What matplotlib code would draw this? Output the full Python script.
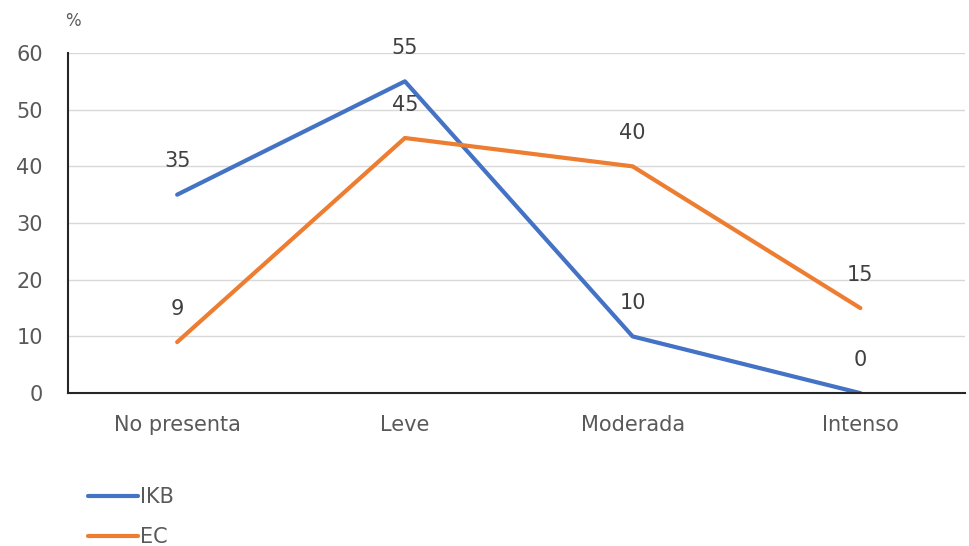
import matplotlib.pyplot as plt

categories = ["No presenta", "Leve", "Moderada", "Intenso"]
ikb = [35, 55, 10, 0]
ec = [9, 45, 40, 15]
yticks = [0, 10, 20, 30, 40, 50, 60]

text_color = "#595959"

fig = plt.figure(figsize=(9.69, 5.46), dpi=100)
ax = fig.add_axes([0.070, 0.280, 0.926, 0.623])

x = list(range(len(categories)))
ax.plot(x, ikb, color="#4472C4", linewidth=3, label="IKB", solid_capstyle="round")
ax.plot(x, ec, color="#ED7D31", linewidth=3, label="EC", solid_capstyle="round")

# data labels above each point
for xi, v in zip(x, ikb):
    ax.annotate(str(v), (xi, v), xytext=(0, 24), textcoords="offset points",
                ha="center", va="center", fontsize=15, color="#404040")
for xi, v in zip(x, ec):
    ax.annotate(str(v), (xi, v), xytext=(0, 24), textcoords="offset points",
                ha="center", va="center", fontsize=15, color="#404040")

ax.set_xlim(-0.48, 3.46)
ax.set_ylim(0, 60)
ax.set_yticks(yticks)
ax.set_xticks(x)
ax.set_xticklabels(categories)
ax.tick_params(axis="both", length=0, labelsize=15, colors=text_color)
ax.tick_params(axis="x", pad=16)
ax.tick_params(axis="y", pad=18)
ax.grid(axis="y", color="#D9D9D9", linewidth=1)
ax.set_axisbelow(True)

for side in ["top", "right"]:
    ax.spines[side].set_visible(False)
ax.spines["left"].set_color("#262626")
ax.spines["bottom"].set_color("#262626")
ax.spines["left"].set_linewidth(1.5)
ax.spines["bottom"].set_linewidth(1.5)

fig.text(0.075, 0.962, "%", fontsize=12, color=text_color, ha="center", va="center")

fig.legend(loc="upper left", bbox_to_anchor=(0.080, 0.127), frameon=False,
           fontsize=15, handlelength=2.4, handletextpad=0.1, labelspacing=0.95,
           labelcolor=text_color, borderpad=0)

fig.savefig("out.png", dpi=100, facecolor="white")
